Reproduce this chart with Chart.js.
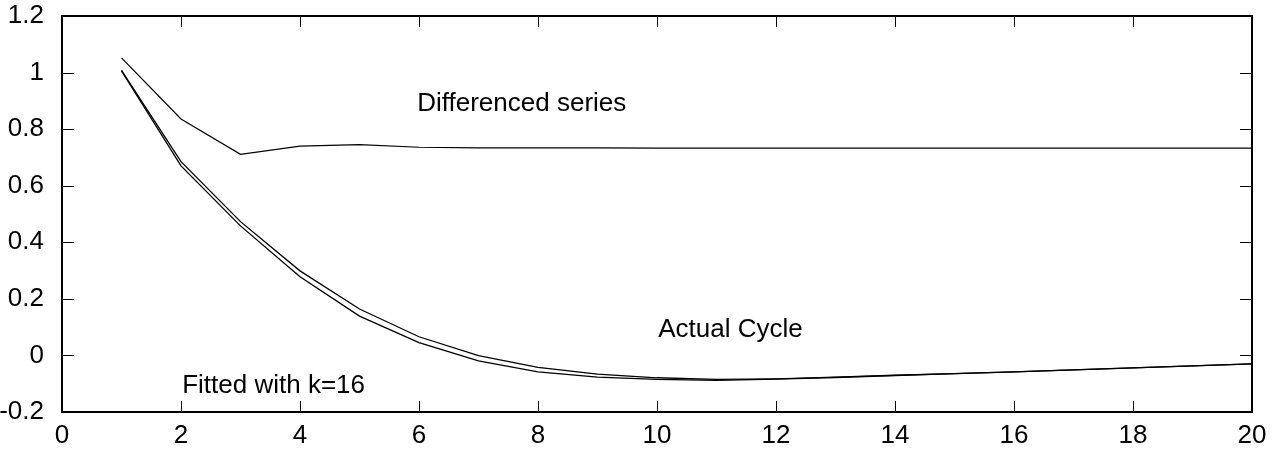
<!DOCTYPE html>
<html>
<head>
<meta charset="utf-8">
<script src="https://cdn.jsdelivr.net/npm/chart.js"></script>
<style>
  body { margin: 0; background: #fff; }
  #wrap { width: 1275px; height: 454px; }
</style>
</head>
<body>
<div id="wrap"><canvas id="cycle" width="1275" height="454"></canvas></div>
<script>
// lag on the x axis
var lags = [1, 2, 3, 4, 5, 6, 7, 8, 9, 10, 11, 12, 13, 14, 15, 16, 17, 18, 19, 20];

// series
var differenced = [1.052, 0.836, 0.711, 0.740, 0.745, 0.736, 0.734, 0.734, 0.734, 0.733,
                   0.733, 0.733, 0.733, 0.733, 0.733, 0.733, 0.733, 0.733, 0.733, 0.733];
var actualCycle = [1.008, 0.685, 0.473, 0.299, 0.164, 0.066, -0.001, -0.042, -0.066, -0.079,
                   -0.085, -0.083, -0.077, -0.070, -0.064, -0.058, -0.051, -0.044, -0.037, -0.030];
var fitted = [1.006, 0.670, 0.458, 0.278, 0.139, 0.045, -0.019, -0.058, -0.077, -0.085,
              -0.088, -0.084, -0.078, -0.071, -0.064, -0.058, -0.051, -0.044, -0.037, -0.030];

// in-plot text labels (x, y in data units, left / baseline)
var notes = [
  { text: 'Differenced series', x: 5.97, y: 0.864 },
  { text: 'Actual Cycle', x: 10.02, y: 0.065 },
  { text: 'Fitted with k=16', x: 2.02, y: -0.133 }
];

function pairs(ys) {
  return lags.map(function(l, i) { return { x: l, y: ys[i] }; });
}

// 1.0 -> "1", -0.0 -> "0"
function tickText(v) {
  var r = Math.round(v * 10) / 10;
  if (r === 0) r = 0;
  return String(r);
}

Chart.defaults.font.family = '"Liberation Sans", Arial, sans-serif';
Chart.defaults.font.size = 26;
Chart.defaults.color = '#000';

// frame, inward ticks and text labels
var framePlugin = {
  id: 'frame',
  afterDatasetsDraw: function(chart) {
    var ctx = chart.ctx, a = chart.chartArea;
    var xs = chart.scales.x, ys = chart.scales.y;
    ctx.save();
    ctx.strokeStyle = '#000';
    ctx.lineWidth = 1;
    ctx.beginPath();
    xs.ticks.forEach(function(t) {
      var px = Math.round(xs.getPixelForValue(t.value)) + 0.5;
      ctx.moveTo(px, a.bottom); ctx.lineTo(px, a.bottom - 11);
      ctx.moveTo(px, a.top); ctx.lineTo(px, a.top + 11);
    });
    ys.ticks.forEach(function(t) {
      var py = Math.round(ys.getPixelForValue(t.value)) + 0.5;
      ctx.moveTo(a.left, py); ctx.lineTo(a.left + 12, py);
      ctx.moveTo(a.right, py); ctx.lineTo(a.right - 12, py);
    });
    ctx.stroke();
    ctx.lineWidth = 2;
    ctx.strokeRect(a.left, a.top, a.right - a.left, a.bottom - a.top);
    ctx.fillStyle = '#000';
    ctx.font = '26px "Liberation Sans", Arial, sans-serif';
    ctx.textBaseline = 'alphabetic';
    ctx.textAlign = 'left';
    notes.forEach(function(n) {
      ctx.fillText(n.text, xs.getPixelForValue(n.x), ys.getPixelForValue(n.y));
    });
    ctx.restore();
  }
};

new Chart(document.getElementById('cycle'), {
  type: 'line',
  data: {
    datasets: [
      { label: 'Differenced series', data: pairs(differenced), borderColor: '#000', borderWidth: 1.2 },
      { label: 'Actual Cycle', data: pairs(actualCycle), borderColor: '#000', borderWidth: 1.3 },
      { label: 'Fitted with k=16', data: pairs(fitted), borderColor: '#000', borderWidth: 1.3 }
    ]
  },
  options: {
    responsive: false,
    animation: false,
    events: [],
    elements: { point: { radius: 0 }, line: { tension: 0 } },
    layout: { padding: { top: 0, right: 23, left: 0, bottom: 0 } },
    plugins: { legend: { display: false }, tooltip: { enabled: false } },
    scales: {
      x: {
        type: 'linear', min: 0, max: 20,
        grid: { display: false },
        border: { display: false },
        ticks: { stepSize: 2, padding: 0, maxRotation: 0 },
        afterFit: function(s) { s.height = 42; s.paddingRight = 0; s.paddingLeft = 0; }
      },
      y: {
        min: -0.2, max: 1.2,
        grid: { display: false },
        border: { display: false },
        ticks: { stepSize: 0.2, padding: 10, callback: tickText },
        afterFit: function(s) { s.width = 62; s.paddingTop = 16; s.paddingBottom = 0; }
      }
    }
  },
  plugins: [framePlugin]
});
</script>
</body>
</html>
